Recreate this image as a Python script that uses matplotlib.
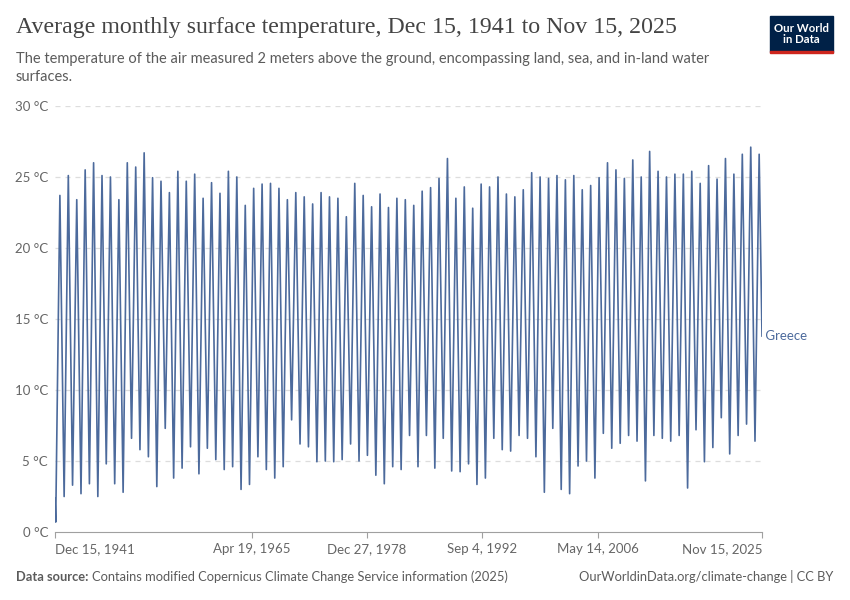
import datetime as dt
import numpy as np
import matplotlib.pyplot as plt
import matplotlib.dates as mdates

# values: winter low (mid Jan) and summer high (mid Jul) per year
years = np.arange(1942, 2026)
summer_peak = [23.7, 25.1, 23.4, 25.5, 26.0, 25.1, 25.0, 23.4, 26.0, 25.7, 26.7, 24.95, 24.7, 23.9,
               25.4, 24.7, 25.2, 23.5, 24.6, 23.85, 25.4, 25.0, 23.0, 24.2, 24.5, 24.55, 24.2, 23.4,
               23.9, 23.6, 23.1, 23.9, 23.6, 23.5, 22.2, 24.55, 23.7, 22.9, 23.8, 22.85, 23.5, 23.4,
               23.0, 24.0, 24.25, 24.9, 26.3, 23.5, 24.3, 22.8, 24.5, 24.3, 25.0, 23.8, 23.6, 24.1,
               25.3, 25.0, 24.9, 25.1, 24.8, 25.1, 24.1, 24.4, 24.95, 26.0, 25.5, 24.9, 26.2, 25.0, 26.8,
               25.4, 25.0, 25.2, 25.2, 25.4, 24.55, 25.8, 24.85, 26.3, 25.2, 26.6, 27.1, 26.6]
winter_low = [0.7, 2.5, 3.3, 2.7, 3.4, 2.5, 4.8, 3.4, 2.8, 6.6, 5.8, 5.3, 3.2, 7.3,
              3.8, 4.5, 6.0, 4.1, 5.9, 5.1, 4.4, 4.6, 3.0, 3.35, 5.3, 4.4, 3.8, 4.6,
              7.9, 6.2, 6.0, 4.95, 5.0, 4.95, 5.1, 6.2, 5.0, 5.4, 4.0, 3.4, 4.6, 4.4,
              6.8, 4.6, 6.8, 4.5, 6.6, 4.3, 4.25, 4.8, 3.35, 3.8, 6.6, 5.8, 5.7, 6.8,
              6.6, 5.3, 2.8, 7.3, 3.0, 2.7, 4.65, 5.0, 3.8, 6.95, 5.9, 6.25, 6.8, 6.4, 3.6,
              6.8, 6.6, 6.4, 6.8, 3.1, 7.2, 4.95, 5.95, 8.05, 5.5, 6.8, 7.6, 6.4]
first_value = 2.4   # Dec 15, 1941
last_value = 13.8   # Nov 15, 2025

tick_dates = [dt.date(1941, 12, 15), dt.date(1965, 4, 19), dt.date(1978, 12, 27),
              dt.date(1992, 9, 4), dt.date(2006, 5, 14), dt.date(2025, 11, 15)]
tick_labels = ["Dec 15, 1941", "Apr 19, 1965", "Dec 27, 1978",
               "Sep 4, 1992", "May 14, 2006", "Nov 15, 2025"]
y_ticks = [0, 5, 10, 15, 20, 25, 30]

dates = [dt.date(1941, 12, 15)]
temps = [first_value]
for y, lo, hi in zip(years, winter_low, summer_peak):
    dates += [dt.date(int(y), 1, 15), dt.date(int(y), 7, 15)]
    temps += [lo, hi]
dates.append(dt.date(2025, 11, 15))
temps.append(last_value)

plt.rcParams['font.family'] = ['Lato', 'DejaVu Sans']
blue = '#4c6a9c'
grey = '#5b5b5b'

fig = plt.figure(figsize=(8.5, 6), dpi=100)
ax = fig.add_axes([55/850, 1-532/600, (762-55)/850, (532-106)/600])

ax.plot(dates, temps, color=blue, lw=1.2)

ax.set_xlim(dates[0], dates[-1])
ax.set_ylim(0, 30)
ax.set_yticks(y_ticks)
ax.set_yticklabels([f"{v} °C" for v in y_ticks])
ax.set_xticks(mdates.date2num(tick_dates))
ax.set_xticklabels(tick_labels)
xl = ax.get_xticklabels()
xl[0].set_ha('left')
xl[-1].set_ha('right')

for s in ['top', 'right', 'left']:
    ax.spines[s].set_visible(False)
ax.spines['bottom'].set_color('#a0a0a0')
ax.tick_params(axis='y', length=0, pad=5, labelsize=9.5, labelcolor='#666666')
ax.tick_params(axis='x', length=4, color='#a0a0a0', pad=4, labelsize=9.5, labelcolor='#666666')
for v in y_ticks[1:]:
    ax.axhline(v, color='#dddddd', lw=0.9, ls=(0, (4, 4)), zorder=0)

ax.text(dates[-1], last_value, " Greece", color=blue, fontsize=9.5, va='center', ha='left',
        clip_on=False)

fig.text(16/850, 1-33/600, "Average monthly surface temperature, Dec 15, 1941 to Nov 15, 2025",
         family=['Liberation Serif', 'DejaVu Serif'], fontsize=17.2, color='#444444')
fig.text(16/850, 1-52/600,
         "The temperature of the air measured 2 meters above the ground, encompassing land, sea, and in-land water\nsurfaces.",
         fontsize=10.5, color=grey, linespacing=1.35, va='top')

# logo
fig.patches.append(plt.Rectangle((770/850, 1-52/600), 63/850, 36/600, transform=fig.transFigure,
                                 color='#002147'))
fig.patches.append(plt.Rectangle((770/850, 1-53/600), 63/850, 2/600, transform=fig.transFigure,
                                 color='#ce261e'))
fig.text(801.5/850, 1-34/600, "Our World\nin Data", color='white', fontsize=8.2,
         ha='center', va='center', fontweight='bold', linespacing=1.05)

src = fig.text(16/850, 1-581/600, "Data source:", fontsize=9.3, color=grey, fontweight='bold')
r = fig.canvas.get_renderer()
bb = src.get_window_extent(renderer=r)
fig.text((bb.x1 + 4)/850, 1-581/600,
         "Contains modified Copernicus Climate Change Service information (2025)",
         fontsize=9.3, color=grey)
fig.text(833/850, 1-581/600, "OurWorldinData.org/climate-change | CC BY", fontsize=9.3,
         color=grey, ha='right')

plt.savefig('out.png', dpi=100)
